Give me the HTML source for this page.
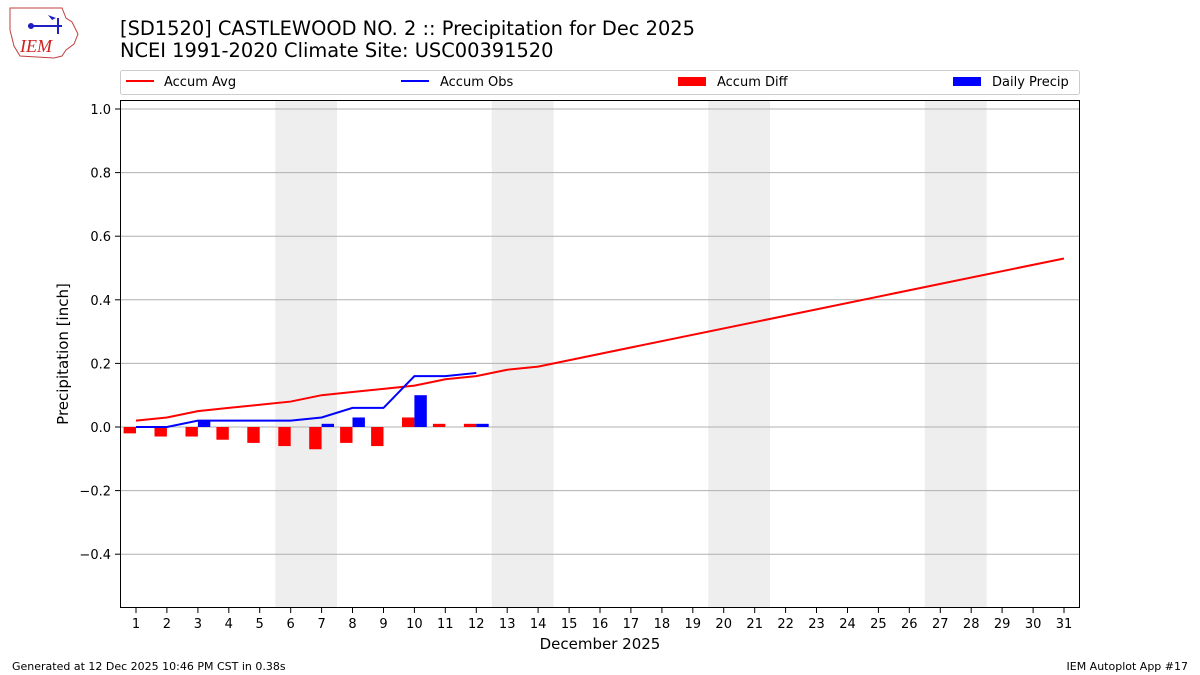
<!DOCTYPE html>
<html><head><meta charset="utf-8"><style>
html,body{margin:0;padding:0;background:#fff;}
svg{display:block;font-family:"DejaVu Sans","Liberation Sans",sans-serif;}
</style></head><body>
<svg width="1200" height="675" viewBox="0 0 1200 675" xmlns="http://www.w3.org/2000/svg">
<rect width="1200" height="675" fill="#fff"/>
<g>
<path d="M10 8 L62 8 L66 18 L72 22 L78 34 L74 44 L66 50 L62 56 L54 58 L20 56 L14 46 L10 30 Z" fill="#fff" stroke="#c04040" stroke-width="1"/>
<line x1="28" y1="26" x2="62" y2="26" stroke="#2020c0" stroke-width="2"/>
<line x1="58" y1="18" x2="58" y2="34" stroke="#2020c0" stroke-width="2"/>
<ellipse cx="31" cy="26" rx="3" ry="3" fill="#2020c0"/>
<path d="M48 15 L56 18 L52 20 Z" fill="#2020c0"/>
<text x="20" y="52" font-family="Liberation Serif,serif" font-style="italic" font-size="18" fill="#d02020">IEM</text>
</g>
<text x="120" y="35" font-size="19.4" fill="#000">[SD1520] CASTLEWOOD NO. 2 :: Precipitation for Dec 2025</text>
<text x="120" y="57" font-size="19.4" fill="#000">NCEI 1991-2020 Climate Site: USC00391520</text>
<rect x="120.5" y="70.5" width="959" height="24" fill="#fff" stroke="#ccc" rx="2"/>
<line x1="126" y1="81" x2="154" y2="81" stroke="#f00" stroke-width="2"/>
<text x="164" y="86" font-size="13">Accum Avg</text>
<line x1="401" y1="81" x2="429" y2="81" stroke="#00f" stroke-width="2"/>
<text x="440" y="86" font-size="13">Accum Obs</text>
<rect x="678" y="77" width="28" height="9" fill="#f00"/>
<text x="717" y="86" font-size="13">Accum Diff</text>
<rect x="953" y="77" width="28" height="9" fill="#00f"/>
<text x="992" y="86" font-size="13">Daily Precip</text>

<rect x="275.2" y="101" width="61.9" height="507" fill="#eee"/>
<rect x="491.7" y="101" width="61.9" height="507" fill="#eee"/>
<rect x="708.3" y="101" width="61.8" height="507" fill="#eee"/>
<rect x="924.8" y="101" width="61.9" height="507" fill="#eee"/>

<g stroke="#b0b0b0" stroke-width="1">
<line x1="121" x2="1080" y1="109" y2="109"/>
<line x1="121" x2="1080" y1="172.6" y2="172.6"/>
<line x1="121" x2="1080" y1="236.2" y2="236.2"/>
<line x1="121" x2="1080" y1="299.8" y2="299.8"/>
<line x1="121" x2="1080" y1="363.4" y2="363.4"/>
<line x1="121" x2="1080" y1="427" y2="427"/>
<line x1="121" x2="1080" y1="490.6" y2="490.6"/>
<line x1="121" x2="1080" y1="554.2" y2="554.2"/>
</g>
<g stroke="#000">
<line x1="115" x2="120" y1="109" y2="109"/>
<line x1="115" x2="120" y1="172.6" y2="172.6"/>
<line x1="115" x2="120" y1="236.2" y2="236.2"/>
<line x1="115" x2="120" y1="299.8" y2="299.8"/>
<line x1="115" x2="120" y1="363.4" y2="363.4"/>
<line x1="115" x2="120" y1="427" y2="427"/>
<line x1="115" x2="120" y1="490.6" y2="490.6"/>
<line x1="115" x2="120" y1="554.2" y2="554.2"/>
</g>
<g font-size="13" text-anchor="end">
<text x="111" y="114">1.0</text>
<text x="111" y="177.6">0.8</text>
<text x="111" y="241.2">0.6</text>
<text x="111" y="304.8">0.4</text>
<text x="111" y="368.4">0.2</text>
<text x="111" y="432">0.0</text>
<text x="111" y="495.6">−0.2</text>
<text x="111" y="559.2">−0.4</text>
</g>

<g stroke="#000">
<line x1="136" x2="136" y1="608" y2="613"/><line x1="166.9" x2="166.9" y1="608" y2="613"/><line x1="197.9" x2="197.9" y1="608" y2="613"/><line x1="228.8" x2="228.8" y1="608" y2="613"/><line x1="259.7" x2="259.7" y1="608" y2="613"/><line x1="290.7" x2="290.7" y1="608" y2="613"/><line x1="321.6" x2="321.6" y1="608" y2="613"/><line x1="352.5" x2="352.5" y1="608" y2="613"/><line x1="383.5" x2="383.5" y1="608" y2="613"/><line x1="414.4" x2="414.4" y1="608" y2="613"/><line x1="445.3" x2="445.3" y1="608" y2="613"/><line x1="476.3" x2="476.3" y1="608" y2="613"/><line x1="507.2" x2="507.2" y1="608" y2="613"/><line x1="538.1" x2="538.1" y1="608" y2="613"/><line x1="569.1" x2="569.1" y1="608" y2="613"/><line x1="600" x2="600" y1="608" y2="613"/><line x1="630.9" x2="630.9" y1="608" y2="613"/><line x1="661.9" x2="661.9" y1="608" y2="613"/><line x1="692.8" x2="692.8" y1="608" y2="613"/><line x1="723.7" x2="723.7" y1="608" y2="613"/><line x1="754.7" x2="754.7" y1="608" y2="613"/><line x1="785.6" x2="785.6" y1="608" y2="613"/><line x1="816.5" x2="816.5" y1="608" y2="613"/><line x1="847.5" x2="847.5" y1="608" y2="613"/><line x1="878.4" x2="878.4" y1="608" y2="613"/><line x1="909.3" x2="909.3" y1="608" y2="613"/><line x1="940.3" x2="940.3" y1="608" y2="613"/><line x1="971.2" x2="971.2" y1="608" y2="613"/><line x1="1002.1" x2="1002.1" y1="608" y2="613"/><line x1="1033.1" x2="1033.1" y1="608" y2="613"/><line x1="1064" x2="1064" y1="608" y2="613"/>
</g>
<g font-size="13" text-anchor="middle">
<text x="136" y="628">1</text><text x="166.9" y="628">2</text><text x="197.9" y="628">3</text><text x="228.8" y="628">4</text><text x="259.7" y="628">5</text><text x="290.7" y="628">6</text><text x="321.6" y="628">7</text><text x="352.5" y="628">8</text><text x="383.5" y="628">9</text><text x="414.4" y="628">10</text><text x="445.3" y="628">11</text><text x="476.3" y="628">12</text><text x="507.2" y="628">13</text><text x="538.1" y="628">14</text><text x="569.1" y="628">15</text><text x="600" y="628">16</text><text x="630.9" y="628">17</text><text x="661.9" y="628">18</text><text x="692.8" y="628">19</text><text x="723.7" y="628">20</text><text x="754.7" y="628">21</text><text x="785.6" y="628">22</text><text x="816.5" y="628">23</text><text x="847.5" y="628">24</text><text x="878.4" y="628">25</text><text x="909.3" y="628">26</text><text x="940.3" y="628">27</text><text x="971.2" y="628">28</text><text x="1002.1" y="628">29</text><text x="1033.1" y="628">30</text><text x="1064" y="628">31</text>
</g>

<g fill="#f00">
<rect x="123.6" y="427" width="12.4" height="6.36"/>
<rect x="154.5" y="427" width="12.4" height="9.54"/>
<rect x="185.5" y="427" width="12.4" height="9.54"/>
<rect x="216.4" y="427" width="12.4" height="12.72"/>
<rect x="247.3" y="427" width="12.4" height="15.9"/>
<rect x="278.3" y="427" width="12.4" height="19.08"/>
<rect x="309.2" y="427" width="12.4" height="22.26"/>
<rect x="340.1" y="427" width="12.4" height="15.9"/>
<rect x="371.1" y="427" width="12.4" height="19.08"/>
<rect x="402" y="417.46" width="12.4" height="9.54"/>
<rect x="432.9" y="423.82" width="12.4" height="3.18"/>
<rect x="463.9" y="423.82" width="12.4" height="3.18"/>
</g>
<g fill="#00f">
<rect x="197.9" y="420.64" width="12.4" height="6.36"/>
<rect x="321.6" y="423.82" width="12.4" height="3.18"/>
<rect x="352.5" y="417.46" width="12.4" height="9.54"/>
<rect x="414.4" y="395.2" width="12.4" height="31.8"/>
<rect x="476.3" y="423.82" width="12.4" height="3.18"/>
</g>

<polyline fill="none" stroke="#f00" stroke-width="2" points="136,420.64 166.9,417.46 197.9,411.1 228.8,407.92 259.7,404.74 290.7,401.56 321.6,395.2 352.5,392.02 383.5,388.84 414.4,385.66 445.3,379.3 476.3,376.12 507.2,369.76 538.1,366.58 1064,258.46"/>
<polyline fill="none" stroke="#00f" stroke-width="2" points="136,427 166.9,427 197.9,420.64 228.8,420.64 259.7,420.64 290.7,420.64 321.6,417.46 352.5,407.92 383.5,407.92 414.4,376.12 445.3,376.12 476.3,372.94"/>

<rect x="120.5" y="100.5" width="959" height="507" fill="none" stroke="#000" stroke-width="1"/>
<text transform="translate(68,354) rotate(-90)" text-anchor="middle" font-size="15">Precipitation [inch]</text>
<text x="600" y="649" text-anchor="middle" font-size="15">December 2025</text>
<text x="12" y="670" font-size="11">Generated at 12 Dec 2025 10:46 PM CST in 0.38s</text>
<text x="1188" y="670" text-anchor="end" font-size="11">IEM Autoplot App #17</text>
</svg>
</body></html>
